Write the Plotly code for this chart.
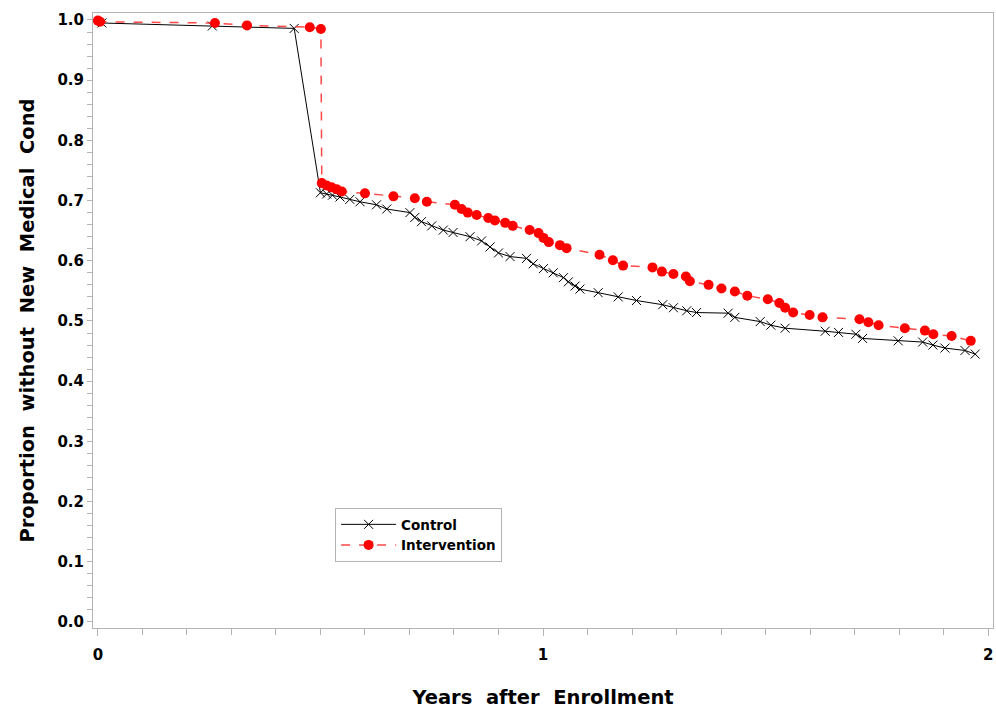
import plotly.graph_objects as go

control_x = [0.009, 0.257, 0.441, 0.500, 0.514, 0.527, 0.544, 0.566, 0.589, 0.626, 0.649, 0.701,
             0.712, 0.727, 0.750, 0.776, 0.798, 0.836, 0.862, 0.881, 0.900, 0.926, 0.963, 0.978,
             1.001, 1.023, 1.046, 1.057, 1.072, 1.083, 1.124, 1.169, 1.210, 1.269, 1.293, 1.323,
             1.345, 1.416, 1.431, 1.488, 1.512, 1.544, 1.634, 1.664, 1.703, 1.718, 1.798, 1.853,
             1.876, 1.903, 1.948, 1.971]
control_y = [0.995, 0.990, 0.986, 0.713, 0.711, 0.709, 0.706, 0.702, 0.698, 0.693, 0.686, 0.680,
             0.672, 0.665, 0.658, 0.651, 0.647, 0.640, 0.633, 0.623, 0.613, 0.607, 0.604, 0.595,
             0.587, 0.580, 0.572, 0.565, 0.558, 0.553, 0.547, 0.540, 0.534, 0.527, 0.522, 0.517,
             0.514, 0.513, 0.506, 0.499, 0.493, 0.488, 0.483, 0.481, 0.478, 0.471, 0.467, 0.465,
             0.460, 0.455, 0.451, 0.445]

interv_x = [0.000, 0.005, 0.263, 0.335, 0.476, 0.501, 0.503, 0.514, 0.525, 0.536, 0.548, 0.600,
            0.664, 0.712, 0.739, 0.802, 0.817, 0.831, 0.851, 0.877, 0.892, 0.915, 0.932, 0.970,
            0.990, 1.001, 1.013, 1.038, 1.053, 1.127, 1.157, 1.180, 1.246, 1.267, 1.293, 1.321,
            1.330, 1.372, 1.401, 1.431, 1.459, 1.505, 1.531, 1.544, 1.562, 1.599, 1.628, 1.711,
            1.731, 1.754, 1.813, 1.858, 1.877, 1.918, 1.961]
interv_y = [0.999, 0.997, 0.995, 0.991, 0.988, 0.985, 0.729, 0.725, 0.722, 0.719, 0.715, 0.712,
            0.707, 0.704, 0.698, 0.693, 0.686, 0.680, 0.676, 0.671, 0.667, 0.663, 0.658, 0.651,
            0.646, 0.638, 0.631, 0.626, 0.621, 0.610, 0.601, 0.592, 0.589, 0.582, 0.578, 0.574,
            0.566, 0.560, 0.554, 0.549, 0.542, 0.536, 0.530, 0.522, 0.514, 0.510, 0.506, 0.503,
            0.498, 0.493, 0.488, 0.484, 0.478, 0.475, 0.467]

x_tickvals = [0, 1, 2]
x_ticktext = ["0", "1", "2"]

FONT = "DejaVu Sans, Arial, sans-serif"
GRAY = "#b4b4b4"
SP = "\u00a0\u00a0"

fig = go.Figure()
fig.add_trace(go.Scatter(
    x=control_x, y=control_y, mode="lines+markers", name="Control",
    line=dict(color="black", width=1),
    marker=dict(symbol="x-thin", size=9, line=dict(color="black", width=1), color="black"),
))
fig.add_trace(go.Scatter(
    x=interv_x, y=interv_y, mode="lines+markers", name="Intervention",
    line=dict(color="rgba(255,40,40,0.85)", width=1.5, dash="dash"),
    marker=dict(symbol="circle", size=10, color="#ff0000"),
))

fig.update_layout(
    width=996, height=709,
    margin=dict(l=93, r=3, t=13, b=81),
    paper_bgcolor="white", plot_bgcolor="white",
    font=dict(family=FONT, color="black"),
    legend=dict(
        x=0.269, y=0.195, xanchor="left", yanchor="top",
        bordercolor=GRAY, borderwidth=1, bgcolor="white",
        font=dict(family=FONT, size=13.5, weight="bold", color="black"),
        itemwidth=55, tracegroupgap=0,
    ),
    showlegend=True,
)
fig.update_xaxes(
    range=[-0.011, 2.011], tickvals=x_tickvals, ticktext=x_ticktext,
    automargin=False,
    showgrid=False, zeroline=False,
    showline=True, linecolor=GRAY, linewidth=1, mirror=True,
    ticks="outside", ticklen=7, tickcolor=GRAY,
    minor=dict(dtick=0.1, ticks="outside", ticklen=6, tickcolor=GRAY, showgrid=False),
    ticklabelstandoff=6,
    tickfont=dict(family=FONT, size=15, weight="bold", color="black"),
    title=dict(text="Years" + SP + "after" + SP + "Enrollment",
               font=dict(family=FONT, size=19.5, weight="bold"), standoff=27),
)
fig.update_yaxes(
    range=[-0.01, 1.0116], dtick=0.1, tick0=0, tickformat=".1f",
    automargin=False,
    showgrid=False, zeroline=False,
    showline=True, linecolor=GRAY, linewidth=1, mirror=True,
    ticks="outside", ticklen=5, tickcolor=GRAY,
    minor=dict(dtick=0.02, ticks="outside", ticklen=5, tickcolor=GRAY, showgrid=False),
    tickfont=dict(family=FONT, size=15, weight="bold", color="black"),
    title=dict(text="Proportion" + SP + "without" + SP + "New" + SP + "Medical" + SP + "Cond",
               font=dict(family=FONT, size=19.5, weight="bold"), standoff=17),
)

# remove the browser's default 8px body margin so the 996x709 figure fills the window exactly
fig.write_html(
    "out.html",
    config={"displayModeBar": False},
    post_script="document.body.style.margin='0';document.body.style.overflow='hidden';",
)
